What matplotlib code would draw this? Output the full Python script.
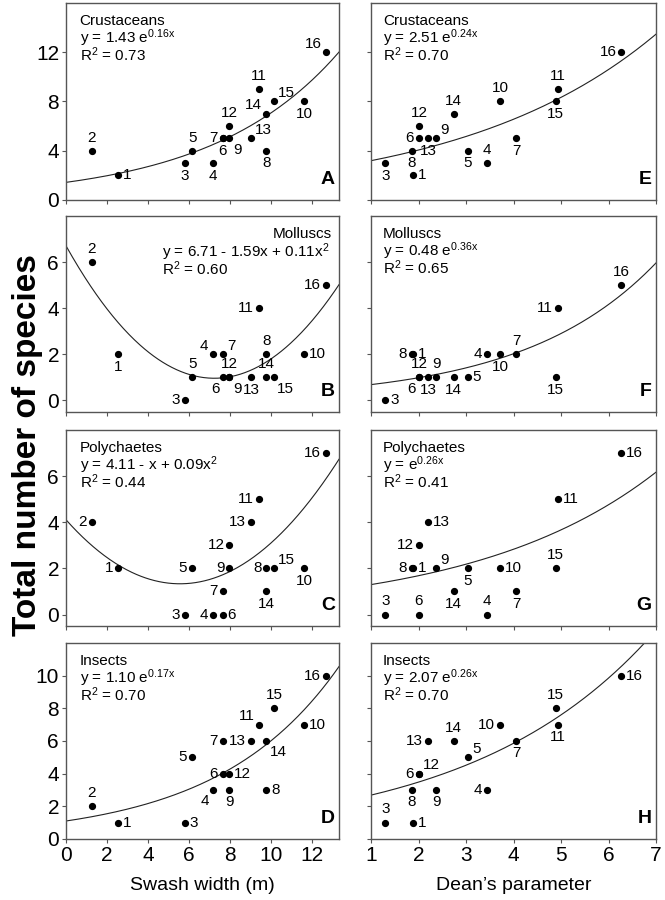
import numpy as np
import matplotlib
matplotlib.use('Agg')
import matplotlib.pyplot as plt

plt.rcParams['font.family'] = ['Liberation Sans', 'DejaVu Sans']
plt.rcParams['mathtext.fontset'] = 'custom'
plt.rcParams['mathtext.rm'] = 'Liberation Sans'
plt.rcParams['mathtext.default'] = 'regular'

# Data: 16 beach sites
sites = list(range(1, 17))
swash_width = [2.55, 1.25, 5.80, 7.14, 6.15, 7.64, 7.64, 9.77, 7.96, 11.60, 9.40, 7.96, 9.02, 9.77, 10.13, 12.68]
deans_param = [1.89, np.nan, 1.30, 3.44, 3.04, 2.01, 4.06, 1.86, 2.37, 3.72, 4.93, 2.01, 2.20, 2.74, 4.89, 6.27]

crustaceans = [2, 4, 3, 3, 4, 5, 5, 4, 5, 8, 9, 6, 5, 7, 8, 12]
molluscs = [2, 6, 0, 2, 1, 1, 2, 2, 1, 2, 4, 1, 1, 1, 1, 5]
polychaetes = [2, 4, 0, 0, 2, 0, 1, 2, 2, 2, 5, 3, 4, 1, 2, 7]
insects = [1, 2, 1, 3, 5, 4, 6, 3, 3, 7, 7, 4, 6, 6, 8, 10]

# fitted models (coefficients from the equations)
fit_swash = [('exp', 1.43, 0.16), ('quad', 6.71, -1.59, 0.11), ('quad', 4.11, -1.0, 0.09), ('exp', 1.10, 0.17)]
fit_dean = [('exp', 2.51, 0.24), ('exp', 0.48, 0.36), ('exp', 1.0, 0.26), ('exp', 2.07, 0.26)]

eq_swash = ['y = 1.43 e$^{0.16x}$', 'y = 6.71 - 1.59x + 0.11x$^{2}$', 'y = 4.11 - x + 0.09x$^{2}$', 'y = 1.10 e$^{0.17x}$']
r2_swash = ['0.73', '0.60', '0.44', '0.70']
eq_dean = ['y = 2.51 e$^{0.24x}$', 'y = 0.48 e$^{0.36x}$', 'y = e$^{0.26x}$', 'y = 2.07 e$^{0.26x}$']
r2_dean = ['0.70', '0.65', '0.41', '0.70']

groups = ['Crustaceans', 'Molluscs', 'Polychaetes', 'Insects']
counts = [crustaceans, molluscs, polychaetes, insects]
letters_left = ['A', 'B', 'C', 'D']
letters_right = ['E', 'F', 'G', 'H']

# label placement per site
label_pos_left = [
    ['r', 'a', 'b', 'b', 'a', 'b', 'l', 'b', 'br', 'b', 'a', 'a', 'ar', 'al', 'ar', 'al'],
    ['b', 'a', 'l', 'al', 'a', 'bl', 'ar', 'a', 'br', 'r', 'l', 'a', 'b', 'a', 'br', 'l'],
    ['l', 'l', 'l', 'l', 'l', 'r', 'l', 'l', 'l', 'b', 'l', 'l', 'l', 'b', 'ar', 'l'],
    ['r', 'a', 'r', 'bl', 'l', 'l', 'l', 'r', 'b', 'r', 'al', 'r', 'l', 'br', 'a', 'l'],
]
label_pos_right = [
    ['r', None, 'b', 'a', 'b', 'l', 'b', 'b', 'ar', 'a', 'a', 'a', 'b', 'a', 'b', 'l'],
    ['r', None, 'r', 'l', 'r', 'bl', 'a', 'l', 'a', 'b', 'l', 'a', 'b', 'b', 'b', 'a'],
    ['r', None, 'a', 'a', 'b', 'a', 'b', 'l', 'ar', 'r', 'r', 'l', 'r', 'b', 'a', 'r'],
    ['r', None, 'a', 'l', 'ar', 'l', 'b', 'b', 'b', 'l', 'b', 'ar', 'l', 'a', 'a', 'r'],
]
offsets = {'a': (0, 9.5, 'center'), 'b': (0, -9, 'center'),
           'r': (3.5, 0, 'left'), 'l': (-3.5, 0, 'right'),
           'ar': (3, 6, 'left'), 'al': (-3, 6, 'right'),
           'br': (2.5, -8, 'left'), 'bl': (-2.5, -8, 'right')}

ylims = [(0, 16), (-0.5, 8), (-0.5, 8), (0, 12)]
yticks = [[0, 4, 8, 12], [0, 2, 4, 6], [0, 2, 4, 6], [0, 2, 4, 6, 8, 10]]

# axes rectangles in figure fraction
row_bottoms = [0.7778, 0.5422, 0.3044, 0.0678]
row_heights = [0.2189, 0.2178, 0.2178, 0.2178]
left_x, left_w = 0.0992, 0.4105
right_x, right_w = 0.5579, 0.4286

spine_col = '#555555'


def model(fit, x):
    if fit[0] == 'exp':
        return fit[1] * np.exp(fit[2] * x)
    return fit[1] + fit[2] * x + fit[3] * x ** 2


def style(ax):
    for s in ax.spines.values():
        s.set_color(spine_col)
        s.set_linewidth(1.0)
    ax.tick_params(direction='out', length=3, width=0.8, color=spine_col, labelsize=15, pad=2)


fig = plt.figure(figsize=(6.65, 9), dpi=100)

for i in range(4):
    for side in ['left', 'right']:
        if side == 'left':
            ax = fig.add_axes([left_x, row_bottoms[i], left_w, row_heights[i]])
            xs, xlim, fit, pos = swash_width, (0, 13.3), fit_swash[i], label_pos_left[i]
            eq, r2, letter = eq_swash[i], r2_swash[i], letters_left[i]
            ax.set_xticks([0, 2, 4, 6, 8, 10, 12])
            tx = 0.05
        else:
            ax = fig.add_axes([right_x, row_bottoms[i], right_w, row_heights[i]])
            xs, xlim, fit, pos = deans_param, (1, 7), fit_dean[i], label_pos_right[i]
            eq, r2, letter = eq_dean[i], r2_dean[i], letters_right[i]
            ax.set_xticks([1, 2, 3, 4, 5, 6, 7])
            tx = 0.042
        ys = counts[i]
        style(ax)
        ax.set_xlim(xlim)
        ax.set_ylim(ylims[i])
        ax.set_yticks(yticks[i])
        if side == 'right':
            ax.set_yticklabels([])
        if i < 3:
            ax.set_xticklabels([])

        # fitted curve
        xc = np.linspace(xlim[0], xlim[1], 300)
        ax.plot(xc, model(fit, xc), color='#222222', lw=0.8)

        # points + site labels
        for s, x, y, p in zip(sites, xs, ys, pos):
            if p is None or np.isnan(x):
                continue
            ax.plot(x, y, 'o', color='black', ms=4.2)
            dx, dy, ha = offsets[p]
            ax.annotate(str(s), (x, y), xytext=(dx, dy), textcoords='offset points',
                        ha=ha, va='center', fontsize=11)

        # group name and equation
        if side == 'left' and i == 1:
            ax.text(0.974, 0.89, groups[i], transform=ax.transAxes, ha='right', va='baseline', fontsize=11)
            ax.text(0.35, 0.79, eq, transform=ax.transAxes, ha='left', va='baseline', fontsize=11)
            ax.text(0.35, 0.70, 'R$^{2}$ = ' + r2, transform=ax.transAxes, ha='left', va='baseline', fontsize=11)
        else:
            ax.text(tx, 0.89, groups[i], transform=ax.transAxes, ha='left', va='baseline', fontsize=11)
            ax.text(tx, 0.795, eq, transform=ax.transAxes, ha='left', va='baseline', fontsize=11)
            ax.text(tx, 0.705, 'R$^{2}$ = ' + r2, transform=ax.transAxes, ha='left', va='baseline', fontsize=11)

        ax.text(0.985, 0.06, letter, transform=ax.transAxes, ha='right', va='bottom',
                fontsize=14, fontweight='bold')

        if i == 3:
            ax.set_xlabel('Swash width (m)' if side == 'left' else 'Dean\u2019s parameter', fontsize=14, labelpad=9)

fig.text(0.042, 0.505, 'Total number of species', rotation=90, ha='center', va='center',
         fontsize=24, fontweight='bold')

fig.savefig('out.png', dpi=100)
